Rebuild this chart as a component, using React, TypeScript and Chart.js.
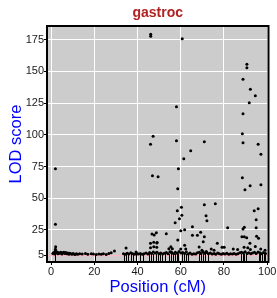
import React, { useEffect, useRef } from "react";
import { Chart, registerables } from "chart.js";

Chart.register(...registerables);

const chartTitle = "gastroc";
const xAxisLabel = "Position (cM)";
const yAxisLabel = "LOD score";
const xTicks = [0, 20, 40, 60, 80, 100];
const yTicks = [5, 25, 50, 75, 100, 125, 150, 175];
const xLimits = [-1.9, 100.6];
const yLimits = [-0.3, 185.8];
const thresholdLod = 4.8;

const markerPositions = [
  2.0, 20.4, 33.7, 34.7, 35.8, 36.9, 38.1, 39.4, 41.3, 42.6, 45.2, 46.3, 47.3, 48.6,
  49.4, 50.4, 51.4, 52.7, 54.5, 55.4, 56.3, 57.4, 58.3, 58.9, 60.6, 61.5, 62.4, 63.5,
  68.6, 69.4, 70.3, 71.4, 72.5, 87.9, 88.6, 89.4, 90.2, 96.0, 96.8, 97.6, 98.3, 99.1,
];

const peakPositions = [
  46.1, 46.1, 60.7, 90.6, 90.6, 88.8, 92.2, 94.5, 91.7, 58.0, 88.8, 47.2, 46.0, 58.0,
  70.9, 88.5, 88.8, 95.8, 97.1, 64.6, 61.4, 58.9, 2.0, 46.9, 49.5, 58.6, 88.5, 92.1,
  89.7, 97.1, 60.3, 58.4, 60.5, 59.4, 57.4, 70.9, 76.0, 71.7, 72.1, 65.4, 60.0, 61.8,
  46.7, 47.7, 48.7, 53.3, 65.4, 67.7, 69.2, 70.9, 81.7, 88.8, 89.4, 88.3, 89.4, 90.5,
  94.0, 95.8, 94.9, 94.9, 96.0, 2.0, 70.4, 58.6, 46.0, 47.5, 48.9, 47.5, 48.9, 46.0,
  55.4, 54.5, 56.1, 55.6, 76.9, 79.1, 80.1, 74.1, 75.4, 71.8, 92.0, 89.3, 91.0, 92.2,
  2.1, 2.0, 29.3, 34.7, 39.3, 61.8, 60.0, 62.3, 68.5, 69.8, 84.3, 86.3, 94.5, 95.1,
  97.0, 99.0, 49.1,
];
const peakLods = [
  179.3, 177.7, 175.8, 155.6, 152.9, 143.8, 135.9, 130.8, 125.3, 122.2, 116.6, 98.8, 92.5, 95.3,
  94.6, 100.9, 93.8, 92.5, 84.6, 87.5, 81.2, 73.3, 73.3, 67.7, 67.0, 57.5, 66.2, 59.9,
  56.7, 60.6, 42.8, 40.1, 36.5, 33.8, 30.7, 44.9, 45.7, 36.2, 32.3, 27.5, 24.4, 25.2,
  21.8, 21.0, 22.8, 22.0, 20.7, 20.7, 23.1, 19.6, 26.8, 25.7, 27.1, 19.6, 19.6, 18.9,
  40.1, 41.7, 33.0, 26.8, 18.4, 29.4, 15.7, 17.0, 14.5, 15.2, 14.7, 11.8, 11.3, 11.0,
  11.8, 10.2, 10.2, 7.5, 14.5, 11.3, 11.3, 10.0, 9.0, 8.0, 14.5, 11.3, 11.0, 9.5,
  11.8, 9.7, 8.3, 10.7, 7.5, 12.9, 10.0, 10.0, 11.5, 9.0, 10.0, 9.5, 12.0, 20.0,
  10.0, 9.0, 15.0,
];

const basePositions = [
  0.8, 1.2, 1.6, 2.0, 2.4, 2.8, 3.2, 3.6, 4.0, 4.5, 5.0, 5.4, 5.9, 6.3, 6.8, 7.2, 7.7,
  8.2, 8.6, 9.1, 9.6, 10.1, 10.6, 11.1, 11.7, 12.3, 13.2, 14.4, 15.9, 17.0, 18.6, 19.6,
  20.9, 22.1, 23.2, 24.2, 25.5, 26.7, 27.8, 33.5, 34.3, 35.2, 36.0, 36.9, 37.8, 38.6,
  39.5, 40.4, 41.3, 42.2, 43.0, 43.9, 44.8, 45.6, 46.5, 47.3, 48.2, 49.0, 49.9, 50.7,
  51.6, 52.4, 53.3, 54.1, 55.0, 55.8, 56.7, 57.5, 58.4, 59.2, 60.1, 60.9, 61.8, 62.6,
  63.5, 64.3, 65.2, 66.0, 66.9, 67.7, 68.6, 69.4, 70.3, 71.1, 72.0, 72.8, 73.7, 74.5,
  75.4, 76.2, 77.1, 77.9, 78.8, 79.6, 80.5, 81.3, 82.2, 83.0, 83.9, 84.7, 85.6, 86.4,
  87.3, 88.1, 89.0, 89.8, 90.7, 91.5, 92.4, 93.2, 94.1, 94.9, 95.8, 96.6, 97.5, 98.3, 99.2,
];
const baseLods = [
  6.5, 7.2, 6.0, 8.3, 6.8, 7.5, 6.2, 7.0, 6.6, 7.3, 6.1, 6.9, 7.4, 6.4, 7.1, 6.3, 6.8,
  5.9, 6.6, 6.2, 5.8, 6.5, 6.0, 5.7, 6.3, 5.9, 6.2, 6.0, 6.5, 5.8, 6.2, 6.0,
  5.6, 6.1, 5.9, 6.3, 5.7, 6.4, 6.9, 6.2, 5.8, 6.6, 6.0, 6.9, 6.3, 5.9,
  6.7, 6.1, 6.5, 5.8, 6.3, 6.8, 6.0, 7.1, 6.4, 7.6, 6.7, 7.3, 6.2, 6.8,
  6.0, 6.6, 7.2, 6.3, 7.8, 6.9, 6.2, 7.4, 6.6, 7.9, 6.8, 7.2, 6.4, 7.5,
  6.1, 6.7, 5.9, 6.3, 6.0, 6.9, 7.3, 6.5, 7.8, 6.6, 7.1, 6.2, 6.8, 6.0,
  6.5, 5.9, 6.7, 6.2, 5.8, 6.4, 6.1, 6.6, 5.9, 6.3, 6.0, 6.5, 5.8, 6.2,
  6.9, 7.4, 6.7, 7.7, 6.5, 7.0, 6.3, 6.8, 7.3, 6.4, 7.6, 6.9, 6.2, 7.1, 6.5,
];

const FONT = "'Liberation Sans', Arial, Helvetica, sans-serif";

const plotFrame = {
  id: "plotFrame",
  beforeDraw(chart: any) {
    const { ctx, chartArea: a } = chart;
    ctx.save();
    ctx.fillStyle = "#cccccc";
    ctx.fillRect(a.left, a.top, a.right - a.left, a.bottom - a.top);
    ctx.restore();
  },
  afterDatasetsDraw(chart: any) {
    const { ctx, chartArea: a, scales } = chart;
    ctx.save();
    ctx.beginPath();
    ctx.rect(a.left, a.top, a.right - a.left, a.bottom - a.top);
    ctx.clip();
    ctx.strokeStyle = "#000000";
    ctx.lineWidth = 1;
    for (const m of markerPositions) {
      const px = Math.round(scales.x.getPixelForValue(m)) + 0.5;
      ctx.beginPath();
      ctx.moveTo(px, a.bottom);
      ctx.lineTo(px, a.bottom - 8);
      ctx.stroke();
    }
    ctx.restore();
    ctx.save();
    ctx.strokeStyle = "#000000";
    ctx.lineWidth = 2;
    ctx.strokeRect(a.left, a.top, a.right - a.left, a.bottom - a.top);
    ctx.restore();
  },
};

export default function App() {
  const canvasRef = useRef<HTMLCanvasElement | null>(null);

  useEffect(() => {
    if (!canvasRef.current) return;
    const peaks = peakPositions.map((x, i) => ({ x, y: peakLods[i] }));
    const base = basePositions.map((x, i) => ({ x, y: baseLods[i] }));
    const chart = new Chart(canvasRef.current, {
      type: "scatter",
      data: {
        datasets: [
          {
            data: [...base, ...peaks],
            backgroundColor: "#000000",
            borderWidth: 0,
            pointRadius: 1.5,
            order: 0,
          },
          {
            type: "line",
            data: [
              { x: xLimits[0], y: thresholdLod },
              { x: xLimits[1], y: thresholdLod },
            ],
            borderColor: "#ffb6c1",
            borderWidth: 1.2,
            pointRadius: 0,
            order: 1,
          } as any,
        ],
      },
      plugins: [plotFrame],
      options: {
        animation: false,
        responsive: false,
        devicePixelRatio: 1,
        layout: { padding: { top: 0, right: 8.5, bottom: 0, left: 0 } },
        plugins: {
          legend: { display: false },
          tooltip: { enabled: false },
          title: {
            display: true,
            text: chartTitle,
            color: "#b22222",
            fullSize: false,
            font: { family: FONT, size: 14, weight: "bold", lineHeight: 1.2 },
            padding: { top: 4.6, bottom: 4.6 },
          },
        },
        scales: {
          x: {
            type: "linear",
            min: xLimits[0],
            max: xLimits[1],
            afterBuildTicks: (s: any) => {
              s.ticks = xTicks.map((v) => ({ value: v }));
            },
            afterFit: (s: any) => {
              s.height = 36;
              s.paddingLeft = 0;
              s.paddingRight = 0;
            },
            grid: { color: "#ffffff", lineWidth: 1, tickColor: "#000000", tickLength: 3 },
            border: { display: false },
            ticks: {
              color: "#1a1a1a",
              font: { family: FONT, size: 11 },
              padding: 0,
              maxRotation: 0,
              autoSkip: false,
            },
            title: {
              display: true,
              text: xAxisLabel,
              color: "#0000ff",
              font: { family: FONT, size: 16.5, lineHeight: 1 },
              padding: { top: 0, bottom: 2 },
            },
          },
          y: {
            type: "linear",
            min: yLimits[0],
            max: yLimits[1],
            afterBuildTicks: (s: any) => {
              s.ticks = yTicks.map((v) => ({ value: v }));
            },
            afterFit: (s: any) => {
              s.width = 47;
              s.paddingTop = 0;
              s.paddingBottom = 0;
            },
            grid: { color: "#ffffff", lineWidth: 1, tickColor: "#000000", tickLength: 3 },
            border: { display: false },
            ticks: {
              color: "#1a1a1a",
              font: { family: FONT, size: 11 },
              padding: 0,
              autoSkip: false,
            },
            title: {
              display: true,
              text: yAxisLabel,
              color: "#0000ff",
              font: { family: FONT, size: 16.5, lineHeight: 1 },
              padding: { top: 8.5, bottom: 0 },
            },
          },
        },
      } as any,
    });
    return () => chart.destroy();
  }, []);

  return (
    <div style={{ position: "fixed", left: 0, top: 0, width: 277, height: 298, background: "#ffffff" }}>
      <canvas ref={canvasRef} width={277} height={298} style={{ display: "block" }} />
    </div>
  );
}
